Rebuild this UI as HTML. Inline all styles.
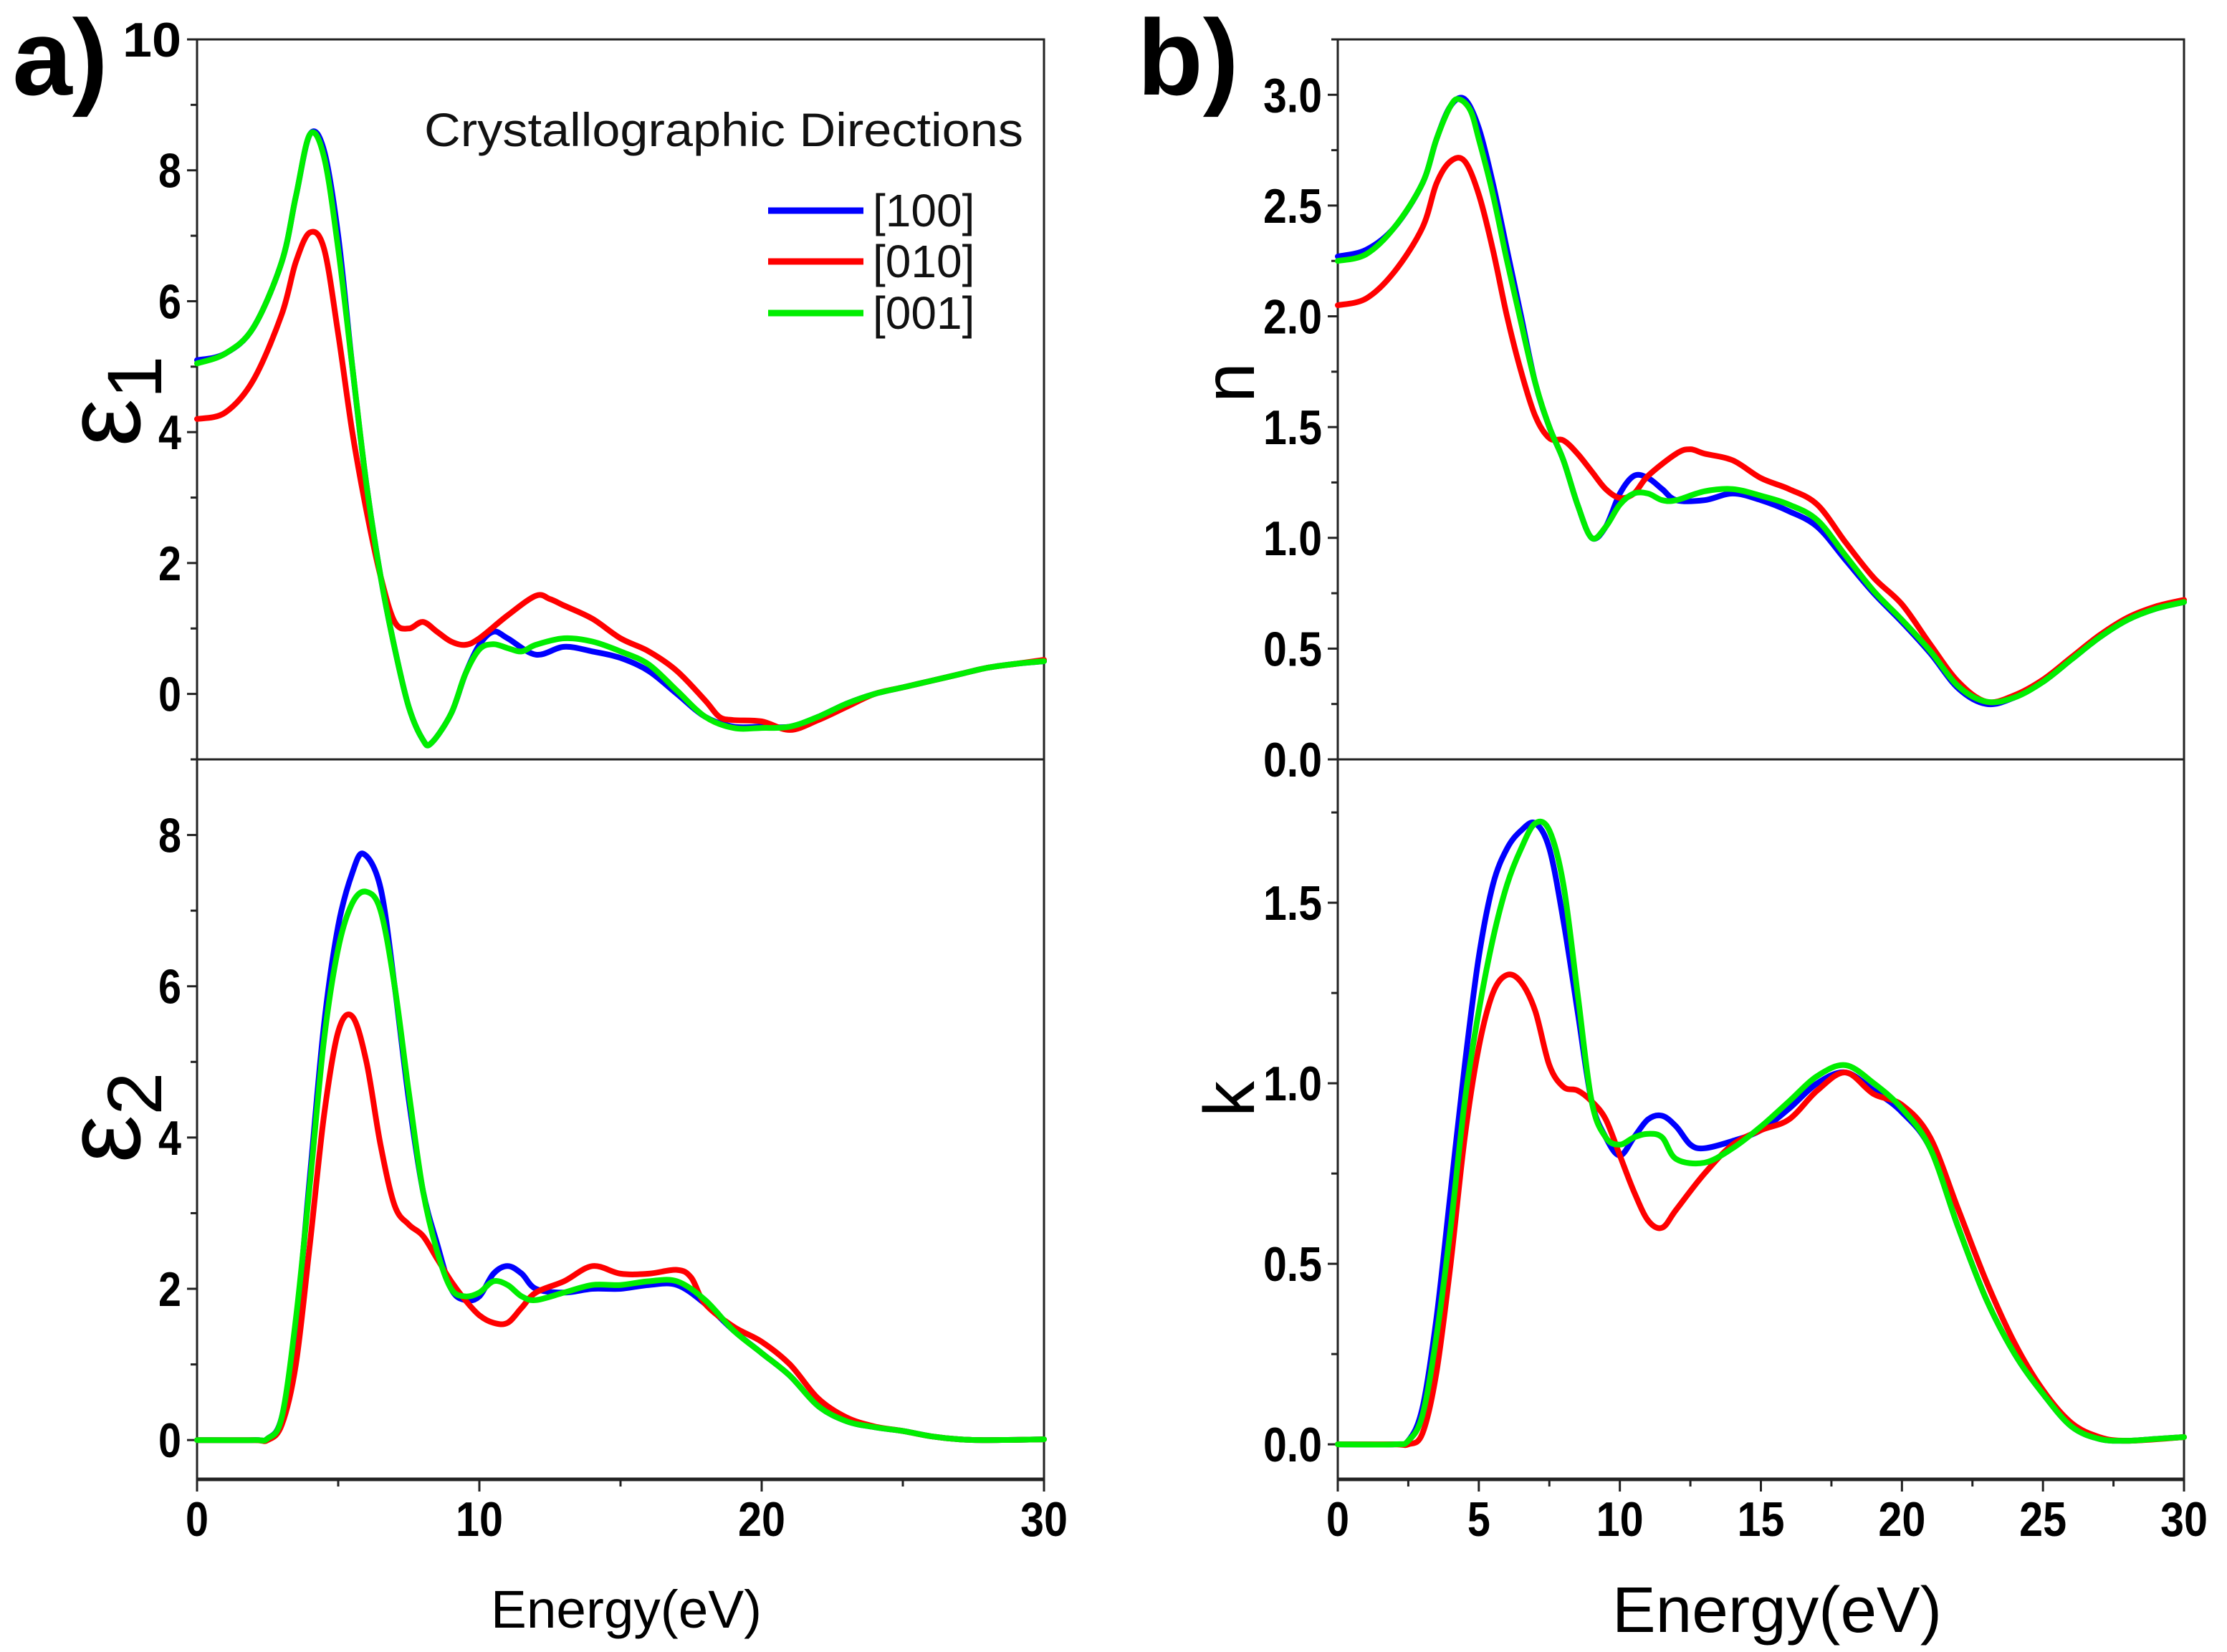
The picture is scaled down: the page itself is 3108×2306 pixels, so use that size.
<!DOCTYPE html>
<html><head><meta charset="utf-8"><style>
html,body{margin:0;padding:0;background:#fff;}
svg{display:block;}
.tk{font-family:"Liberation Sans Narrow","Liberation Sans",sans-serif;font-weight:bold;font-size:68px;fill:#000;}
</style></head><body>
<svg id="fig" width="3108" height="2306" viewBox="0 0 3108 2306" xmlns="http://www.w3.org/2000/svg">
<g id="root"></g>
</svg>
<script>
const E_e1B=[0,1,2,3,3.5,4,4.5,5,5.5,6,6.5,7,7.5,8,8.3,9,9.5,10,10.5,11,12,13,14,15,16,17,18,19,20,21,22,23,24,25,26,27,28,29,30];
const V_e1B=[5.1,5.2,5.6,6.6,7.6,8.55,8.3,7.0,5.0,3.2,1.8,0.7,-0.2,-0.7,-0.75,-0.3,0.3,0.75,0.95,0.85,0.6,0.72,0.65,0.55,0.35,0.0,-0.35,-0.5,-0.5,-0.5,-0.35,-0.15,0.0,0.1,0.2,0.3,0.4,0.46,0.5];
const E_e1G=[0,1,2,3,3.5,4,4.5,5,5.5,6,6.5,7,7.5,8,8.3,9,9.5,10,10.5,11,11.5,12,13,14,15,16,17,18,19,20,21,22,23,24,25,26,27,28,29,30];
const V_e1G=[5.05,5.2,5.6,6.6,7.6,8.55,8.2,6.8,5.0,3.2,1.8,0.7,-0.2,-0.7,-0.75,-0.3,0.3,0.68,0.76,0.7,0.65,0.75,0.85,0.8,0.65,0.45,0.05,-0.35,-0.52,-0.52,-0.5,-0.35,-0.15,0.0,0.1,0.2,0.3,0.4,0.46,0.5];
const E_e1R=[0,1,2,3,3.5,4,4.5,5,5.5,6,6.5,7,7.5,8,8.5,9,9.5,10,11,12,12.5,13,14,15,16,17,18,18.5,19,20,21,22,23,24,25,26,27,28,29,30];
const V_e1R=[4.2,4.3,4.8,5.8,6.6,7.05,6.8,5.5,4.0,2.8,1.8,1.1,1.0,1.1,0.95,0.8,0.75,0.85,1.2,1.5,1.45,1.35,1.15,0.85,0.65,0.35,-0.1,-0.35,-0.4,-0.42,-0.55,-0.4,-0.2,0.0,0.1,0.2,0.3,0.4,0.46,0.52];

const E_e2B=[0,2,2.5,3,3.5,4,4.5,5,5.5,5.9,6.5,7,7.5,8,8.5,9,9.5,10,10.5,11,11.5,12,13,14,15,16,17,18,19,20,21,22,23,24,25,26,27,28,30];
const V_e2B=[0,0,0.02,0.3,1.5,3.5,5.5,6.8,7.5,7.75,7.3,6.0,4.5,3.3,2.6,2.0,1.85,1.9,2.2,2.3,2.2,2.0,1.95,2.0,2.0,2.05,2.05,1.8,1.45,1.15,0.85,0.45,0.25,0.17,0.12,0.05,0.01,0,0.01];
const E_e2G=[0,2,2.5,3,3.5,4,4.5,5,5.5,6,6.5,7,7.5,8,8.5,9,9.5,10,10.5,11,11.5,12,13,14,15,16,17,18,19,20,21,22,23,24,25,26,27,28,30];
const V_e2G=[0,0,0.02,0.3,1.6,3.4,5.3,6.5,7.1,7.25,7.0,6.0,4.6,3.3,2.5,2.0,1.9,1.95,2.1,2.05,1.9,1.85,1.95,2.05,2.05,2.1,2.1,1.85,1.45,1.15,0.85,0.45,0.25,0.17,0.12,0.05,0.01,0,0.01];
const E_e2R=[0,2,2.5,3,3.5,4,4.5,5,5.5,6,6.5,7,7.5,8,8.5,9,9.5,10,10.5,11,11.5,12,13,14,15,16,17,17.5,18,19,20,21,22,23,24,25,26,27,28,30];
const V_e2R=[0,0,0,0.2,1.0,2.6,4.3,5.4,5.6,5.0,3.9,3.1,2.85,2.7,2.4,2.1,1.85,1.65,1.55,1.55,1.75,1.95,2.1,2.3,2.2,2.2,2.25,2.15,1.8,1.5,1.3,1.0,0.55,0.3,0.18,0.12,0.05,0.01,0,0.01];

const E_nB=[0,1,2,3,3.5,4,4.5,5,5.5,6,6.5,7,7.5,8,8.5,9,9.5,10,10.5,11,11.5,12,13,14,15,16,17,18,19,20,21,22,23,24,25,26,27,28,29,30];
const V_nB=[2.27,2.3,2.4,2.6,2.8,2.95,2.98,2.85,2.6,2.3,2.0,1.7,1.5,1.35,1.15,1.0,1.05,1.2,1.28,1.27,1.22,1.17,1.17,1.2,1.17,1.12,1.05,0.9,0.75,0.62,0.48,0.32,0.25,0.28,0.35,0.45,0.55,0.63,0.68,0.71];
const E_nG=[0,1,2,3,3.5,4,4.3,4.7,5,5.5,6,6.5,7,7.5,8,8.5,9,9.5,10,10.5,11,11.5,12,13,14,15,16,17,18,19,20,21,22,23,24,25,26,27,28,29,30];
const V_nG=[2.25,2.28,2.4,2.6,2.8,2.95,2.98,2.93,2.8,2.55,2.25,1.97,1.7,1.5,1.35,1.15,1.0,1.05,1.15,1.2,1.2,1.17,1.17,1.21,1.22,1.19,1.15,1.08,0.92,0.76,0.63,0.49,0.33,0.26,0.28,0.35,0.45,0.55,0.63,0.68,0.71];
const E_nR=[0,1,2,3,3.5,4,4.5,5,5.5,6,6.5,7,7.5,8,8.5,9,9.5,10,10.5,11,12,12.5,13,14,15,16,17,18,19,20,21,22,23,24,25,26,27,28,29,30];
const V_nR=[2.05,2.08,2.2,2.4,2.6,2.7,2.7,2.55,2.3,2.0,1.75,1.55,1.45,1.44,1.38,1.3,1.22,1.18,1.2,1.28,1.38,1.4,1.38,1.35,1.27,1.22,1.15,0.98,0.82,0.7,0.52,0.35,0.26,0.29,0.36,0.46,0.56,0.64,0.69,0.72];

const E_kB=[0,2,2.5,3,3.5,4,4.5,5,5.5,6,6.5,7,7.5,8,8.5,9,9.5,10,10.5,11,11.5,12,12.5,13,14,15,16,17,18,19,20,21,22,23,24,25,26,27,28,29,30];
const V_kB=[0,0,0.01,0.1,0.35,0.7,1.05,1.35,1.55,1.65,1.7,1.72,1.65,1.45,1.2,0.95,0.85,0.8,0.85,0.9,0.91,0.88,0.83,0.82,0.84,0.87,0.93,1.0,1.03,0.98,0.92,0.82,0.6,0.4,0.25,0.14,0.05,0.015,0.01,0.015,0.02];
const E_kG=[0,2,2.5,3,3.5,4,4.5,5,5.5,6,6.5,7,7.5,8,8.5,9,9.5,10,10.5,11,11.5,12,13,14,15,16,17,18,19,20,21,22,23,24,25,26,27,28,29,30];
const V_kG=[0,0,0.01,0.08,0.3,0.6,0.95,1.2,1.4,1.55,1.65,1.72,1.7,1.55,1.25,0.95,0.85,0.83,0.85,0.86,0.85,0.79,0.78,0.82,0.88,0.95,1.02,1.05,1.0,0.93,0.82,0.6,0.4,0.25,0.14,0.05,0.015,0.01,0.015,0.02];
const E_kR=[0,2,2.5,3,3.5,4,4.5,5,5.5,6,6.5,7,7.5,8,8.5,9,9.5,10,10.5,11,11.5,12,13,14,15,16,17,18,19,20,21,22,23,24,25,26,27,28,30];
const V_kR=[0,0,0,0.03,0.2,0.5,0.85,1.1,1.25,1.3,1.28,1.2,1.05,0.99,0.98,0.95,0.9,0.8,0.7,0.62,0.6,0.65,0.75,0.83,0.87,0.9,0.98,1.03,0.97,0.94,0.85,0.65,0.45,0.28,0.15,0.06,0.02,0.01,0.02];

const ticksA=[0,10,20,30];
const ticksB=[0,5,10,15,20,25,30];
const yT_e1=[0,2,4,6,8,10];
const yT_e2=[0,2,4,6,8];
const yT_n=[0.0,0.5,1.0,1.5,2.0,2.5,3.0];
const yT_k=[0.0,0.5,1.0,1.5];
const legendLabels=["[100]","[010]","[001]"];
const COLORS=["#0000ff","#ff0000","#00ee00"];

const NS="http://www.w3.org/2000/svg";
const root=document.getElementById('root');
function mk(tag,attrs,parent){const e=document.createElementNS(NS,tag);for(const k in attrs)e.setAttribute(k,attrs[k]);(parent||root).appendChild(e);return e;}

function panel(name,x0,x1,y0,y1,ymin,ymax,xTicks,xMinorStep,yTicks,yMinorStep,yFmt,series,showX){
  const g=mk('g',{});
  
  
  const sx=v=>x0+(v/30)*(x1-x0);
  const sy=v=>y1-(v-ymin)/(ymax-ymin)*(y1-y0);
  const fr=mk('rect',{x:x0,y:y0,width:x1-x0,height:y1-y0,fill:'none',stroke:'#222','stroke-width':3},g);
  
  
  const start=Math.ceil(ymin/yMinorStep)*yMinorStep;
  for(let v=start;v<=ymax+1e-9;v+=yMinorStep){
    const major=yTicks.some(t=>Math.abs(t-v)<1e-6);
    mk('line',{x1:x0-(major?14:9),x2:x0,y1:sy(v),y2:sy(v),stroke:'#222','stroke-width':3},g);
  }
  yTicks.forEach(v=>{
    const s=yFmt(v);
    const t=mk('text',{x:x0-22,y:sy(v)+24,'text-anchor':'end',class:'tk',textLength:s.length===1?32:82,lengthAdjust:'spacingAndGlyphs'},g);
    t.textContent=s;
    
    
  });
  if(showX){
    for(let v=0;v<=30+1e-9;v+=xMinorStep){
      const major=xTicks.some(t=>Math.abs(t-v)<1e-6);
      mk('line',{x1:sx(v),x2:sx(v),y1:y1,y2:y1+(major?18:11),stroke:'#222','stroke-width':3},g);
    }
    mk('line',{x1:x0,x2:x1,y1:y1+1,y2:y1+1,stroke:'#222','stroke-width':5},g);
    xTicks.forEach(v=>{
      const s=String(v);
      const t=mk('text',{x:sx(v),y:y1+80,'text-anchor':'middle',class:'tk',textLength:s.length===1?32:66,lengthAdjust:'spacingAndGlyphs'},g);
      t.textContent=s;
      
      
    });
  }
  series.forEach((s,i)=>{
    const pts=s[0].map((e,j)=>[sx(e),sy(s[1][j])]);
    let d='M'+pts[0][0].toFixed(1)+','+pts[0][1].toFixed(1);
    for(let j=0;j<pts.length-1;j++){
      const p0=pts[Math.max(0,j-1)],p1=pts[j],p2=pts[j+1],p3=pts[Math.min(pts.length-1,j+2)];
      const c1=[p1[0]+(p2[0]-p0[0])/6,p1[1]+(p2[1]-p0[1])/6];
      const c2=[p2[0]-(p3[0]-p1[0])/6,p2[1]-(p3[1]-p1[1])/6];
      d+=`C${c1[0].toFixed(1)},${c1[1].toFixed(1)} ${c2[0].toFixed(1)},${c2[1].toFixed(1)} ${p2[0].toFixed(1)},${p2[1].toFixed(1)}`;
    }
    const p=mk('path',{d:d,fill:'none',stroke:s[2],'stroke-width':8,'stroke-linejoin':'round','stroke-linecap':'round'},g);
    
    
  });
}
const f0=v=>String(v), f1=v=>v.toFixed(1);
const AX0=275,AX1=1457,BX0=1867,BX1=3048;
panel('eps1-panel',AX0,AX1,55,1060,-1.0,10,ticksA,5,yT_e1,1,f0,
 [[E_e1B,V_e1B,COLORS[0],'100'],[E_e1R,V_e1R,COLORS[1],'010'],[E_e1G,V_e1G,COLORS[2],'001']],false);
panel('eps2-panel',AX0,AX1,1060,2064,-0.51,9.0,ticksA,5,yT_e2,1,f0,
 [[E_e2B,V_e2B,COLORS[0],'100'],[E_e2R,V_e2R,COLORS[1],'010'],[E_e2G,V_e2G,COLORS[2],'001']],true);
panel('n-panel',BX0,BX1,55,1060,0.0,3.25,ticksB,2.5,yT_n,0.25,f1,
 [[E_nB,V_nB,COLORS[0],'100'],[E_nR,V_nR,COLORS[1],'010'],[E_nG,V_nG,COLORS[2],'001']],false);
panel('k-panel',BX0,BX1,1060,2064,-0.095,1.897,ticksB,2.5,yT_k,0.25,f1,
 [[E_kB,V_kB,COLORS[0],'100'],[E_kR,V_kR,COLORS[1],'010'],[E_kG,V_kG,COLORS[2],'001']],true);

const lg=mk('g',{});


const lt=mk('text',{x:592,y:204,'font-family':'Liberation Sans Narrow, Liberation Sans, sans-serif','font-size':66,fill:'#111',textLength:836,lengthAdjust:'spacingAndGlyphs'},lg);
lt.textContent='Crystallographic Directions';


const ly=[294,365,437];
legendLabels.forEach((lab,i)=>{
  const l=mk('line',{x1:1072,x2:1205,y1:ly[i],y2:ly[i],stroke:COLORS[i],'stroke-width':9},lg);
  
  
  const t=mk('text',{x:1218,y:ly[i]+22,'font-family':'Liberation Sans Narrow, Liberation Sans, sans-serif','font-size':64,fill:'#111'},lg);
  t.textContent=lab;
  
  
});

function label(txt,x,y,size,rot,name,weight,len,sub){
  const t=mk('text',{x:x,y:y,'text-anchor':'middle','font-family':'Liberation Sans, sans-serif','font-size':size,fill:'#000','font-weight':weight||'normal',transform:rot?`rotate(-90 ${x} ${y})`:''});
  if(len){t.setAttribute('textLength',len);t.setAttribute('lengthAdjust','spacingAndGlyphs');}
  t.textContent=txt;
  if(sub){const s=mk('tspan',{'font-size':size*0.72,dy:size*0.2},t);s.textContent=sub;}
  
  
}
label('ε',195,560,150,true,'eps1-axis-title','normal',0,'1');
label('ε',195,1560,150,true,'eps2-axis-title','normal',0,'2');
label('n',1750,534,100,true,'n-axis-title');
label('k',1750,1534,100,true,'k-axis-title');
label('Energy(eV)',874,2272,74,false,'x-axis-title-a','normal',378);
label('Energy(eV)',2480,2278,90,false,'x-axis-title-b','normal',460);
label('a)',84,132,150,false,'panel-label-a','bold');
label('b)',1658,132,150,false,'panel-label-b','bold');
</script>
</body></html>
